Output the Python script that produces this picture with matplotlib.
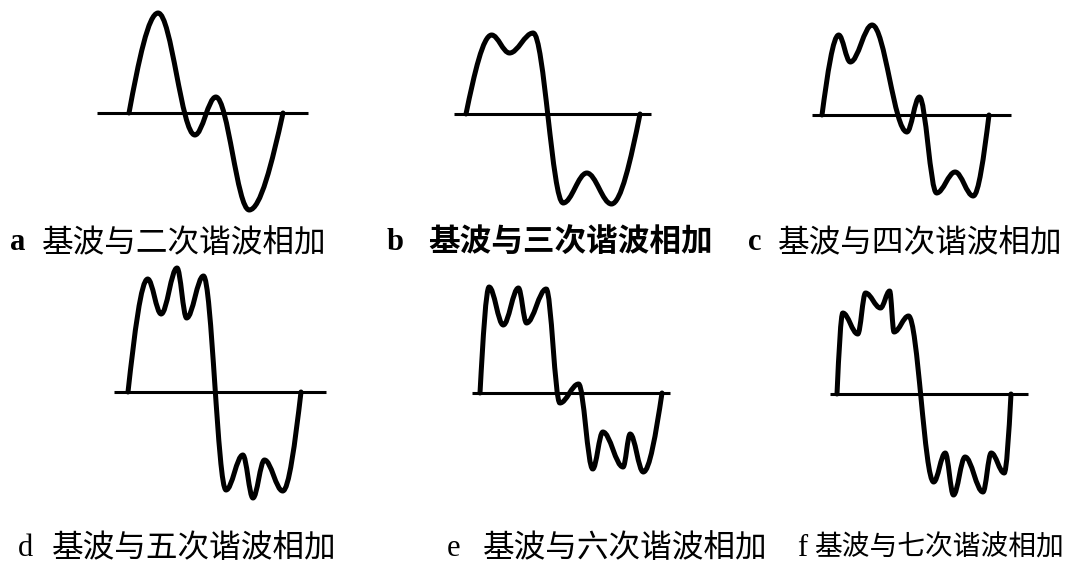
import matplotlib.pyplot as plt
from matplotlib.path import Path
from matplotlib.patches import PathPatch

W, H = 1067, 570

letters = ['a', 'b', 'c', 'd', 'e', 'f']
captions = ['基波与二次谐波相加', '基波与三次谐波相加', '基波与四次谐波相加',
            '基波与五次谐波相加', '基波与六次谐波相加', '基波与七次谐波相加']

# turning points of each summed wave over one period:
# phase in degrees, amplitude relative to the fundamental
deg_a = [0, 68, 154, 203, 281, 360]
amp_a = [0, 1.00, -0.22, 0.16, -0.97, 0]

deg_b = [0, 53, 90, 139, 201, 250, 301, 360]
amp_b = [0, 0.79, 0.61, 0.81, -0.89, -0.59, -0.90, 0]

deg_c = [0, 36, 61, 108, 183, 210, 247, 287, 326, 360]
amp_c = [0, 0.80, 0.53, 0.90, -0.17, 0.18, -0.78, -0.57, -0.81, 0]

deg_d = [0, 41, 69, 102, 122, 157, 204, 239, 260, 284, 322, 360]
amp_d = [0, 1.13, 0.78, 1.24, 0.74, 1.16, -0.98, -0.63, -1.06, -0.68, -0.99, 0]

deg_e = [0, 18, 46, 76, 92, 131, 158, 195, 223, 243, 283, 297, 323, 360]
amp_e = [0, 1.06, 0.68, 1.05, 0.70, 1.04, -0.10, 0.09, -0.76, -0.39, -0.74, -0.41, -0.79, 0]

deg_f = [0, 12, 43, 59, 90, 109, 118, 148, 200, 224, 241, 265, 302, 319, 346, 360]
amp_f = [0, 0.81, 0.60, 1.01, 0.86, 1.03, 0.62, 0.78, -0.88, -0.59, -1.01, -0.63, -0.98, -0.59, -0.79, 0]

waves = [(deg_a, amp_a), (deg_b, amp_b), (deg_c, amp_c),
         (deg_d, amp_d), (deg_e, amp_e), (deg_f, amp_f)]

# panel placement in pixels: start of period, width of period, baseline height,
# and how far the zero line runs past the period (degrees)
panels = [
    (129, 154, 113, -75, 418),
    (466, 174, 114, -25, 383),
    (822, 167, 115, -22, 407),
    (128, 173, 392, -30, 412),
    (480, 182, 393, -15, 375),
    (837, 174, 394, -15, 396),
]
# letter x, caption x, text centre y, caption size
label_pos = [(10, 42, 243, 22.8), (387, 428, 243, 22.8), (748, 778, 243, 22.8),
             (18, 52, 548, 22.8), (447, 483, 548, 22.8), (797, 814, 548, 20)]


def wave_path(xs, ys):
    # smooth curve through the turning points: steep at the zero ends, flat at the peaks
    verts = [(xs[0], ys[0])]
    codes = [Path.MOVETO]
    n = len(xs) - 1
    for i in range(n):
        x0, y0, x1, y1 = xs[i], ys[i], xs[i + 1], ys[i + 1]
        dx, dy = x1 - x0, y1 - y0
        if i == 0:
            c1 = (x0 + 0.33 * dx, y0 + 0.52 * dy)
            c2 = (x0 + 0.67 * dx, y1)
        elif i == n - 1:
            c1 = (x0 + 0.33 * dx, y0)
            c2 = (x1 - 0.33 * dx, y1 - 0.52 * dy)
        else:
            c1 = (x0 + 0.36 * dx, y0)
            c2 = (x1 - 0.36 * dx, y1)
        verts += [c1, c2, (x1, y1)]
        codes += [Path.CURVE4] * 3
    return Path(verts, codes)


fig = plt.figure(figsize=(W / 100, H / 100), dpi=100)
fig.patch.set_facecolor('white')

for (xs, ys), (x0, span, base, lo, hi) in zip(waves, panels):
    ax = fig.add_axes([x0 / W, (H - base - 150) / H, span / W, 300 / H])
    ax.set_xlim(0, 360)
    ax.set_ylim(-1.5, 1.5)
    ax.axis('off')
    ax.plot([lo, hi], [0, 0], color='black', lw=2.2, solid_capstyle='butt', clip_on=False)
    patch = PathPatch(wave_path(xs, ys), facecolor='none', edgecolor='black', lw=3.6,
                      capstyle='round', joinstyle='round', clip_on=False)
    ax.add_patch(patch)

for i, (lx, cx, cy, size) in enumerate(label_pos):
    fig.text(lx / W, 1 - cy / H, letters[i], family='Liberation Serif', fontsize=22,
             fontweight='bold' if i < 3 else 'normal', ha='left', va='center')
    fig.text(cx / W, 1 - cy / H, captions[i], family=['Noto Sans CJK SC', 'DejaVu Sans'],
             fontsize=size, fontweight='bold' if i == 1 else 'normal', ha='left', va='center')

fig.savefig('out.png', dpi=100, facecolor='white')
